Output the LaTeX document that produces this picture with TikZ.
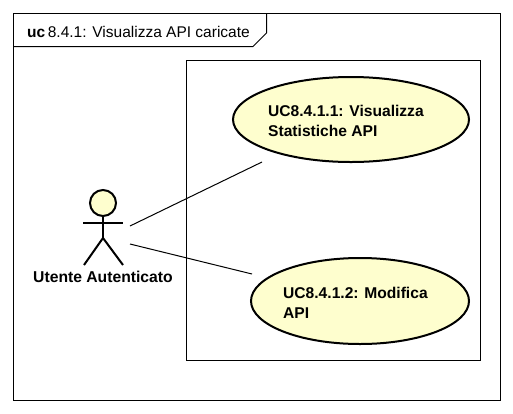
\documentclass[tikz,border=0pt]{standalone}
\usepackage{fontspec}
\setmainfont{Liberation Sans}
\usetikzlibrary{shapes.geometric}
\definecolor{ucfill}{HTML}{FEFECE}
\tikzset{
  x=1pt,y=-1pt,
  box/.style={draw=black,line width=1pt},
  usecase/.style={ellipse,draw=black,line width=2pt,fill=ucfill,inner sep=0pt,minimum width=236pt,minimum height=85pt},
  uctext/.style={font=\bfseries\fontsize{15.6}{20}\selectfont,align=left,anchor=north west,inner sep=0pt},
  conn/.style={draw=black,line width=1pt},
  stick/.style={draw=black,line width=2pt}
}
\begin{document}
\begin{tikzpicture}
\useasboundingbox (0,0) rectangle (513,413);
\fill[white] (0,0) rectangle (513,413);
\draw[box] (13.5,13.5) rectangle (500,400);
\draw[box] (13.5,46.5) -- (253,46.5) -- (266.5,33) -- (266.5,13.5);
\node[anchor=base west,inner sep=0pt,font=\fontsize{15.5}{16}\selectfont] (title) at (27,37) {\textbf{uc}\,8.4.1: Visualizza API caricate};
\draw[box] (186.5,60.5) rectangle (480,360);
\node[usecase] (uc1) at (351,119.5) {};
\node[usecase,minimum width=218pt,minimum height=86pt] (uc2) at (360,301) {};
\node[uctext] (t1) at (268,104.5) {UC8.4.1.1: Visualizza\\Statistiche API};
\node[uctext] (t2) at (283,286.5) {UC8.4.1.2: Modifica\\API};
\node[circle,draw=black,line width=2pt,fill=ucfill,minimum size=26pt,inner sep=0pt] (head) at (103,203) {};
\coordinate (armL) at (83,223);
\coordinate (armR) at (123,223);
\coordinate (hip) at (103,238);
\coordinate (footL) at (84,265);
\coordinate (footR) at (123,265);
\draw[stick] (head) -- (hip);
\draw[stick] (armL) -- (armR);
\draw[stick] (footL) -- (hip) -- (footR);
\node[font=\bfseries\fontsize{15.7}{16}\selectfont,inner sep=0pt,anchor=base] (actor) at (103,282) {Utente Autenticato};
\coordinate (a1) at (130,226);
\coordinate (a2) at (130,244);
\coordinate (e1) at (262,162);
\coordinate (e2) at (252,274);
\draw[conn] (a1) -- (e1);
\draw[conn] (a2) -- (e2);
\end{tikzpicture}
\end{document}
